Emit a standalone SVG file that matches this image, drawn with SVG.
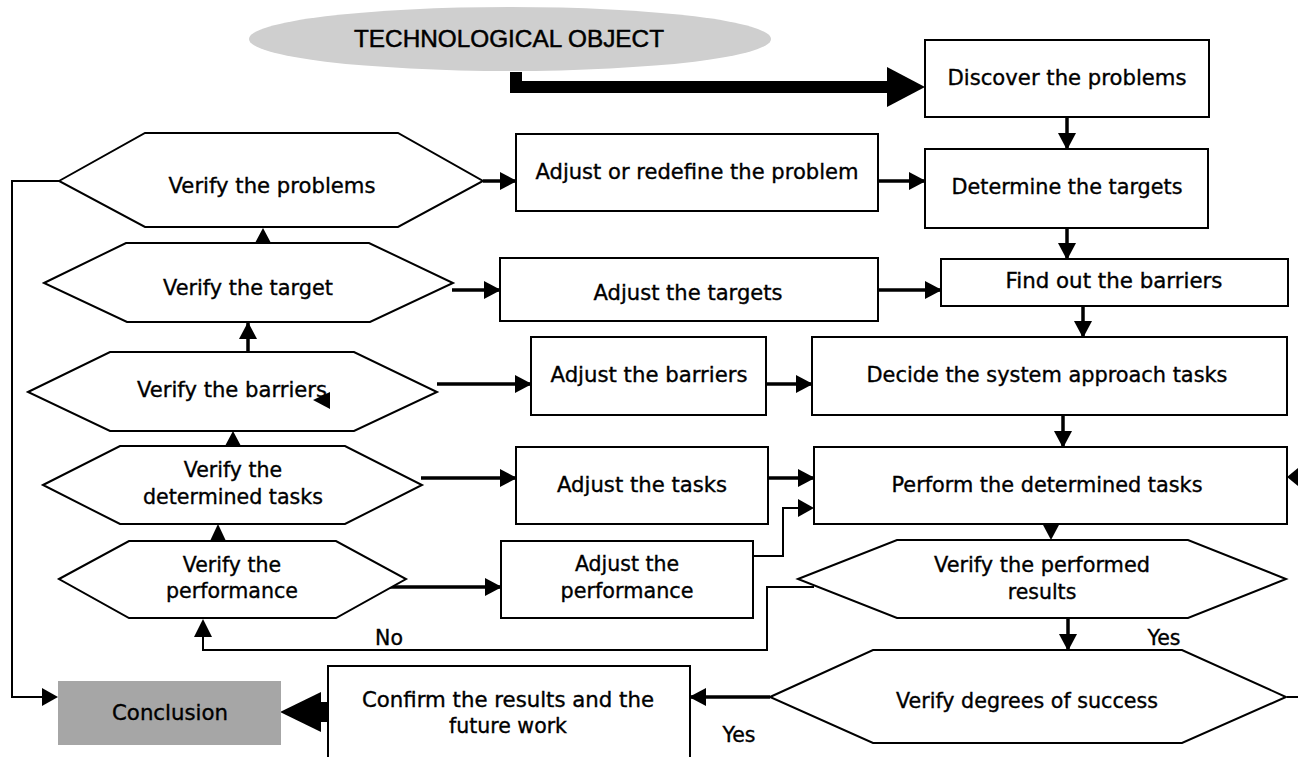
<svg xmlns="http://www.w3.org/2000/svg" width="1298" height="757" viewBox="0 0 1298 757">
<defs>
<style>
.box{fill:#fff;stroke:#000;stroke-width:2}
.t{font-family:"DejaVu Sans",Verdana,sans-serif;font-size:20.5px;text-anchor:middle;fill:#000;stroke:#000;stroke-width:0.35}
.c{fill:none;stroke:#000;stroke-width:3.5}
.thin{fill:none;stroke:#000;stroke-width:2}
.ah{fill:#000}
</style>
<marker id="a" markerUnits="userSpaceOnUse" markerWidth="17" markerHeight="18" refX="16" refY="9" orient="auto">
<path d="M0,0 L17,9 L0,18 z" fill="#000"/>
</marker>
</defs>
<rect width="1298" height="757" fill="#fff"/>

<g id="n-object">
<ellipse cx="510" cy="39" rx="261" ry="32" fill="#cfcfcf"/>
<text x="509" y="47" style="font-family:'Liberation Sans',Arial,sans-serif;font-size:24px;text-anchor:middle;stroke:#000;stroke-width:0.5" textLength="310" lengthAdjust="spacingAndGlyphs">TECHNOLOGICAL OBJECT</text>
</g>

<g id="connectors">
<path d="M516,72 V87 H888" fill="none" stroke="#000" stroke-width="12"/>
<polygon class="ah" points="887,67 925,87 887,107"/>
<path class="c" d="M1067,117 V149" marker-end="url(#a)"/>
<path class="c" d="M483,181 H516" marker-end="url(#a)"/>
<path class="c" d="M878,181 H925" marker-end="url(#a)"/>
<path class="c" d="M1067,228 V259" marker-end="url(#a)"/>
<polygon class="ah" points="255,243 263,228 271,243"/>
<path class="c" d="M452,290 H500" marker-end="url(#a)"/>
<path class="c" d="M878,290 H941" marker-end="url(#a)"/>
<path class="c" d="M1083,306 V337" marker-end="url(#a)"/>
<path class="c" d="M248,352 V323" marker-end="url(#a)"/>
<path class="c" d="M437,384 H531" marker-end="url(#a)"/>
<path class="c" d="M766,384 H812" marker-end="url(#a)"/>
<path class="c" d="M1063,415 V447" marker-end="url(#a)"/>
<polygon class="ah" points="225,446 233,431 241,446"/>
<path class="c" d="M421,478 H516" marker-end="url(#a)"/>
<path class="c" d="M768,478 H814" marker-end="url(#a)"/>
<path class="thin" d="M753,556 H783 V508 H798"/>
<polygon class="ah" points="798,499 814,508 798,517"/>
<polygon class="ah" points="210,541 218,524 226,541"/>
<path class="c" d="M388,587 H501" marker-end="url(#a)"/>
<polygon class="ah" points="1042,523 1051,540 1060,523"/>
<path class="thin" d="M814,587 H767 V650 H203 V636"/>
<polygon class="ah" points="194,637 203,619 212,637"/>
<path class="c" d="M1068,618 V650" marker-end="url(#a)"/>
<path class="c" d="M770,697 H690" marker-end="url(#a)"/>
<path d="M328,712 H310" fill="none" stroke="#000" stroke-width="20"/>
<polygon class="ah" points="321,692 280,712 321,732"/>
<path class="thin" d="M59,181 H12 V697 H42"/>
<polygon class="ah" points="42,688 58,697 42,706"/>
<path class="thin" d="M1287,697 H1298"/>
<polygon class="ah" points="1298,468 1287,477 1298,486"/>
</g>

<g id="n-discover">
<rect class="box" x="925" y="40" width="284" height="77"/>
<text class="t" x="1067" y="85" textLength="239" lengthAdjust="spacingAndGlyphs">Discover the problems</text>
</g>
<g id="n-determine">
<rect class="box" x="925" y="149" width="283" height="79"/>
<text class="t" x="1067" y="194" textLength="231" lengthAdjust="spacingAndGlyphs">Determine the targets</text>
</g>
<g id="n-findout">
<rect class="box" x="941" y="259" width="347" height="47"/>
<text class="t" x="1114" y="288" textLength="217" lengthAdjust="spacingAndGlyphs">Find out the barriers</text>
</g>
<g id="n-decide">
<rect class="box" x="812" y="337" width="475" height="78"/>
<text class="t" x="1047" y="382" textLength="361" lengthAdjust="spacingAndGlyphs">Decide the system approach tasks</text>
</g>
<g id="n-perform">
<rect class="box" x="814" y="447" width="473" height="77"/>
<text class="t" x="1047" y="492" textLength="311" lengthAdjust="spacingAndGlyphs">Perform the determined tasks</text>
</g>
<g id="n-adjust-problem">
<rect class="box" x="516" y="134" width="362" height="77"/>
<text class="t" x="697" y="179" textLength="323" lengthAdjust="spacingAndGlyphs">Adjust or redefine the problem</text>
</g>
<g id="n-adjust-targets">
<rect class="box" x="500" y="258" width="378" height="63"/>
<text class="t" x="688" y="300" textLength="189" lengthAdjust="spacingAndGlyphs">Adjust the targets</text>
</g>
<g id="n-adjust-barriers">
<rect class="box" x="531" y="337" width="235" height="78"/>
<text class="t" x="649" y="382" textLength="197" lengthAdjust="spacingAndGlyphs">Adjust the barriers</text>
</g>
<g id="n-adjust-tasks">
<rect class="box" x="516" y="447" width="252" height="77"/>
<text class="t" x="642" y="492" textLength="170" lengthAdjust="spacingAndGlyphs">Adjust the tasks</text>
</g>
<g id="n-adjust-performance">
<rect class="box" x="501" y="541" width="252" height="77"/>
<text class="t" x="627" y="571">Adjust the</text>
<text class="t" x="627" y="598" textLength="133" lengthAdjust="spacingAndGlyphs">performance</text>
</g>

<g id="n-verify-problems">
<polygon class="box" points="59,181 145,133 398,133 483,181 398,227 145,227"/>
<text class="t" x="272" y="193" textLength="207" lengthAdjust="spacingAndGlyphs">Verify the problems</text>
</g>
<g id="n-verify-target">
<polygon class="box" points="44,283 126,243 369,243 453,283 370,322 127,322"/>
<text class="t" x="248" y="295" textLength="170" lengthAdjust="spacingAndGlyphs">Verify the target</text>
</g>
<g id="n-verify-barriers">
<polygon class="box" points="28,392 110,352 354,352 437,392 354,431 110,431"/>
<text class="t" x="232" y="397" textLength="190" lengthAdjust="spacingAndGlyphs">Verify the barriers</text>
</g>
<g id="n-verify-tasks">
<polygon class="box" points="43,485 120,446 345,446 422,485 345,524 120,524"/>
<text class="t" x="233" y="477">Verify the</text>
<text class="t" x="233" y="504" textLength="180" lengthAdjust="spacingAndGlyphs">determined tasks</text>
</g>
<g id="n-verify-performance">
<polygon class="box" points="59,579 129,541 336,541 406,579 336,618 129,618"/>
<text class="t" x="232" y="572">Verify the</text>
<text class="t" x="232" y="598" textLength="132" lengthAdjust="spacingAndGlyphs">performance</text>
</g>
<g id="n-verify-results">
<polygon class="box" points="798,579 897,540 1188,540 1286,579 1188,618 897,618"/>
<text class="t" x="1042" y="572" textLength="216" lengthAdjust="spacingAndGlyphs">Verify the performed</text>
<text class="t" x="1042" y="599">results</text>
</g>
<g id="n-verify-success">
<polygon class="box" points="770,697 873,650 1182,650 1286,697 1182,743 873,743"/>
<text class="t" x="1027" y="708" textLength="262" lengthAdjust="spacingAndGlyphs">Verify degrees of success</text>
</g>
<g id="n-confirm">
<rect class="box" x="328" y="666" width="362" height="100"/>
<text class="t" x="508" y="707" textLength="292" lengthAdjust="spacingAndGlyphs">Confirm the results and the</text>
<text class="t" x="508" y="733">future work</text>
</g>
<g id="n-conclusion">
<rect x="58" y="681" width="223" height="64" fill="#a6a6a6"/>
<text class="t" x="170" y="720" textLength="116" lengthAdjust="spacingAndGlyphs">Conclusion</text>
</g>

<g id="stray-arrowhead">
<polygon class="ah" points="330,392 313,400 330,409"/>
</g>

<g id="labels">
<text class="t" x="389" y="645">No</text>
<text class="t" x="1164" y="645">Yes</text>
<text class="t" x="739" y="742">Yes</text>
</g>
</svg>
